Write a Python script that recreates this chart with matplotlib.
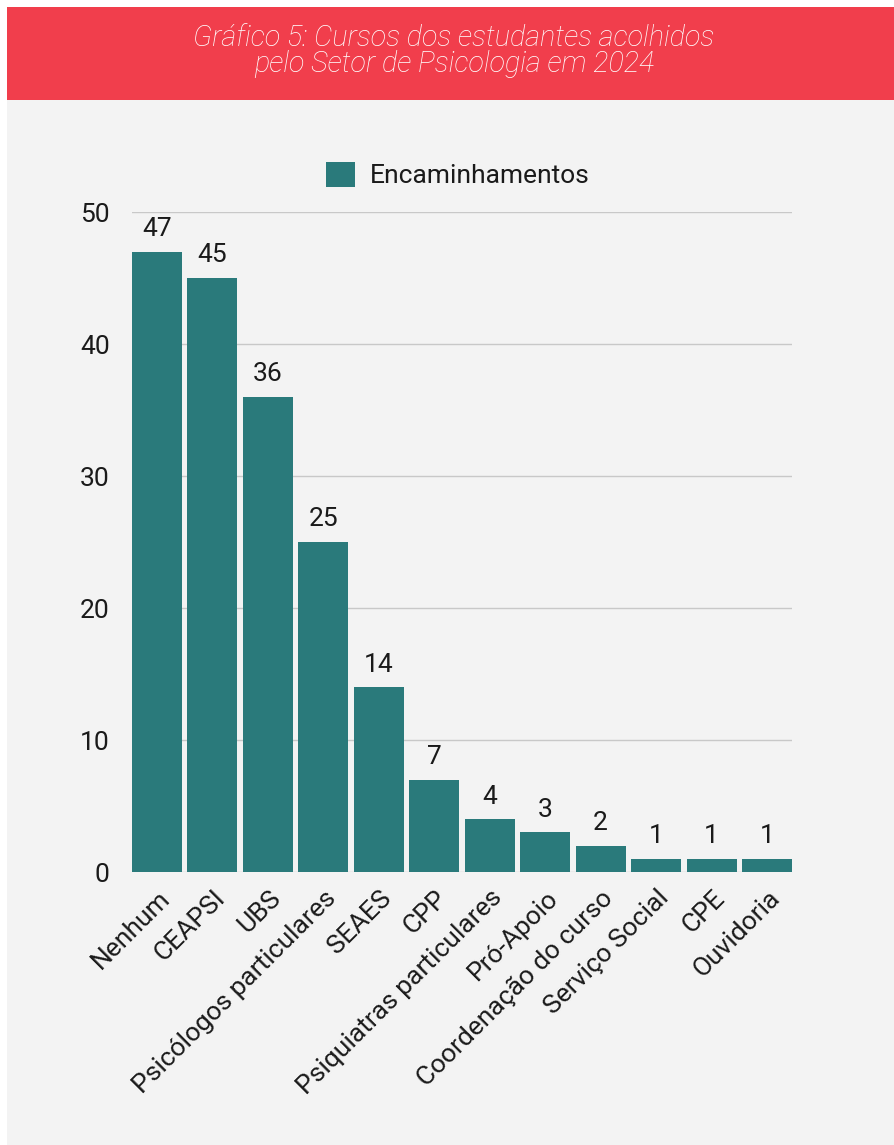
import matplotlib.pyplot as plt
import matplotlib.transforms as mtransforms
from matplotlib.patches import Rectangle

categories = ['Nenhum', 'CEAPSI', 'UBS', 'Psicólogos particulares', 'SEAES', 'CPP',
              'Psiquiatras particulares', 'Pró-Apoio', 'Coordenação do curso',
              'Serviço Social', 'CPE', 'Ouvidoria']
values = [47, 45, 36, 25, 14, 7, 4, 3, 2, 1, 1, 1]
series_name = 'Encaminhamentos'
title = 'Gráfico 5: Cursos dos estudantes acolhidos\npelo Setor de Psicologia em 2024'

plt.rcParams['font.family'] = ['Roboto', 'DejaVu Sans']

W, H = 894, 1145
fig = plt.figure(figsize=(W / 100, H / 100), dpi=100)
fig.patch.set_facecolor('white')

# background panel and red header
fig.add_artist(Rectangle((7 / W, 0), 1, 1 - 100 / H, transform=fig.transFigure,
                         facecolor='#f3f3f3', edgecolor='none', zorder=0))
fig.add_artist(Rectangle((7 / W, 1 - 100 / H), 1, 93 / H, transform=fig.transFigure,
                         facecolor='#f13e4c', edgecolor='none', zorder=0))
fig.text(454 / W, 1 - 51 / H, title, color='white', fontsize=20.7, style='italic',
         fontweight='light', ha='center', va='center', linespacing=0.92)

ax = fig.add_axes([132 / W, 1 - 872 / H, 660 / W, 660 / H])
ax.set_facecolor('none')
x = range(len(categories))
bars = ax.bar(x, values, width=0.9, color='#2a7a7b', label=series_name, zorder=3)
for xi, v in zip(x, values):
    ax.text(xi, v + 0.8, str(v), ha='center', va='bottom', fontsize=19, color='#1a1a1a')

ax.set_xlim(-0.45, len(categories) - 0.55)
ax.set_ylim(0, 50)
ax.set_yticks([0, 10, 20, 30, 40, 50])
ax.yaxis.grid(True, color='#c8c8c8', linewidth=1)
ax.set_axisbelow(True)
for s in ax.spines.values():
    s.set_visible(False)
ax.tick_params(axis='both', length=0, labelsize=19, labelcolor='#1a1a1a')
ax.tick_params(axis='y', pad=16)
ax.set_xticks(list(x))
ax.set_xticklabels(categories, rotation=45, ha='right', va='center', rotation_mode='anchor')
ax.tick_params(axis='x', pad=16)
shift = mtransforms.ScaledTranslation(9 / 100, 0, fig.dpi_scale_trans)
for lab in ax.get_xticklabels():
    lab.set_transform(lab.get_transform() + shift)

leg = fig.legend(handles=[bars], labels=[series_name], loc='center',
                 bbox_to_anchor=(458 / W, 1 - 175 / H), frameon=False, fontsize=19,
                 handlelength=1.1, handleheight=1.1, handletextpad=0.55)
for t in leg.get_texts():
    t.set_color('#1a1a1a')

fig.savefig('out.png', dpi=100, facecolor=fig.get_facecolor())
